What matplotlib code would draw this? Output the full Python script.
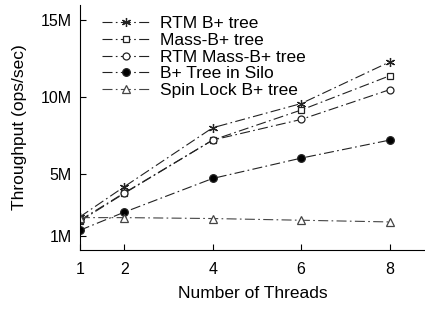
import matplotlib.pyplot as plt

plt.rcParams['font.family'] = ['Liberation Sans', 'DejaVu Sans']

threads = [1, 2, 4, 6, 8]
rtm_btree = [2.25, 4.2, 8.03, 9.6, 12.3]
mass_btree = [1.97, 3.77, 7.23, 9.18, 11.4]
rtm_mass_btree = [2.03, 3.8, 7.23, 8.57, 10.5]
silo_btree = [1.38, 2.55, 4.74, 6.06, 7.23]
spin_btree = [2.2, 2.2, 2.14, 2.03, 1.92]

labels = ["RTM B+ tree", "Mass-B+ tree", "RTM Mass-B+ tree",
          "B+ Tree in Silo", "Spin Lock B+ tree"]
yticks = [1, 5, 10, 15]
ytick_labels = ["1M", "5M", "10M", "15M"]

fig = plt.figure(figsize=(4.25, 3.09), dpi=100)
ax = fig.add_axes([0.188, 0.191, 0.812, 0.793])

dash = (0, (9, 3, 1.5, 3))
ax.plot(threads, rtm_btree, color='#222222', lw=0.8, linestyle=dash,
        marker=(6, 2, 0), ms=6.5, mew=0.9, label=labels[0])
ax.plot(threads, mass_btree, color='#222222', lw=0.8, linestyle=dash,
        marker='s', ms=5, mfc='white', mew=0.9, label=labels[1])
ax.plot(threads, rtm_mass_btree, color='#222222', lw=0.8, linestyle=dash,
        marker='o', ms=5, mfc='white', mew=0.9, label=labels[2])
ax.plot(threads, silo_btree, color='#222222', lw=0.8, linestyle=dash,
        marker='o', ms=5.5, mfc='black', mew=0.9, label=labels[3])
ax.plot(threads, spin_btree, color='#444444', lw=0.8, linestyle=dash,
        marker='^', ms=5.5, mfc='white', mew=0.9, label=labels[4])

ax.set_xlim(1, 8.8)
ax.set_ylim(0.1, 16)
ax.set_xticks(threads)
ax.set_yticks(yticks)
ax.set_yticklabels(ytick_labels)
ax.tick_params(direction='in', labelsize=11.5, length=4, width=0.8)
ax.tick_params(axis='x', pad=9)
ax.tick_params(axis='y', pad=6)
ax.spines['top'].set_visible(False)
ax.spines['right'].set_visible(False)
ax.set_xlabel('Number of Threads', fontsize=12.5, labelpad=6)
ax.set_ylabel('Throughput (ops/sec)', fontsize=12.5, labelpad=10)

ax.legend(loc='upper left', bbox_to_anchor=(0.02, 1.02), frameon=False,
          fontsize=12.5, handlelength=2.7, handletextpad=0.6,
          labelspacing=0.1)

fig.savefig('out.png', dpi=100)
